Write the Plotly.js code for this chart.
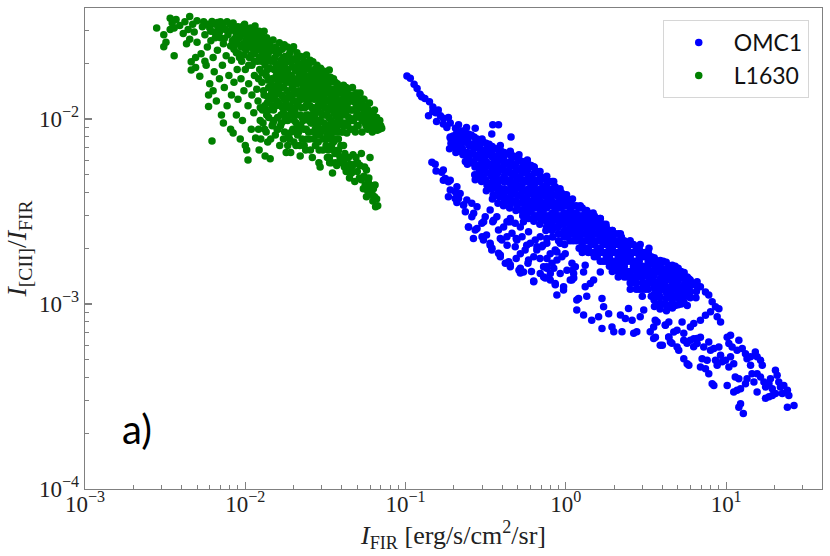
<!DOCTYPE html>
<html>
<head>
<meta charset="utf-8">
<script src="https://cdn.plot.ly/plotly-3.0.1.min.js"></script>
<style>html,body{margin:0;padding:0;background:#fff;}#chart{width:830px;height:556px;}</style>
</head>
<body>
<div id="chart"></div>
<script>
// [I_FIR (erg/s/cm2/sr), I_[CII]/I_FIR] pairs
const L1630_outer = [
[0.0028,0.031],[0.0031,0.0285],[0.0031,0.0246],[0.0032,0.026],[0.0034,0.035],[0.0035,0.033],[0.0036,0.022],[0.0036,0.031],[0.0034,0.0305],[0.0037,0.0345],
[0.0039,0.032],[0.0041,0.029],[0.0042,0.0335],[0.0044,0.0305],[0.0045,0.0358],[0.0045,0.027],[0.0046,0.0204],[0.0046,0.0184],[0.0047,0.0325],[0.0048,0.0295],[0.0049,0.0215],[0.005,0.026],[0.005,0.034],[0.0049,0.019],[0.0043,0.0255],
[0.0052,0.017],[0.0053,0.0225],[0.0054,0.0315],[0.0055,0.0335],[0.0056,0.0285],[0.0057,0.0195],[0.0058,0.0245],[0.0059,0.0135],[0.0059,0.0117],[0.006,0.0155],[0.006,0.031],[0.0061,0.0265],[0.0062,0.0337],[0.0062,0.0076],[0.0063,0.0215],[0.0064,0.0295],[0.0064,0.018],[0.0065,0.0325],[0.0056,0.0205],[0.0063,0.0142],
[0.0066,0.0125],[0.0067,0.0235],[0.0068,0.031],[0.0069,0.0165],[0.007,0.0275],[0.007,0.0335],[0.0071,0.0105],[0.0072,0.0195],[0.0073,0.0095],[0.0073,0.0255],[0.0074,0.0148],[0.0075,0.0305],[0.0076,0.022],[0.0077,0.0118],[0.0078,0.0285],[0.0079,0.0172],[0.008,0.0325],[0.0081,0.0088],[0.0082,0.0208],[0.0082,0.0135],[0.0083,0.0265],[0.0084,0.033],[0.0084,0.0084],[0.0085,0.0158],[0.0085,0.0238],
[0.0087,0.0295],[0.0088,0.0105],[0.0089,0.0185],[0.009,0.0315],[0.009,0.0128],[0.0091,0.0225],[0.0092,0.0275],[0.0093,0.0078],[0.0094,0.0165],[0.0095,0.0305],[0.0095,0.0205],[0.0096,0.0098],[0.0097,0.0255],[0.0098,0.0142],[0.0099,0.0325],[0.01,0.0185],[0.01,0.0072],[0.0101,0.0235],[0.0102,0.0068],[0.0103,0.0285],[0.0104,0.006],[0.0104,0.0118],[0.0105,0.0155],[0.0106,0.0215],[0.0107,0.0265],[0.0108,0.031],[0.0109,0.0088],[0.011,0.0195],[0.011,0.0135],[0.0108,0.0245],
[0.0086,0.0312],[0.0089,0.0255],[0.0092,0.0215],[0.0096,0.0288],[0.0099,0.0242],[0.0102,0.0305],[0.0105,0.0195],[0.0109,0.0275],[0.0112,0.0238],[0.0115,0.0318],[0.0118,0.0262],[0.0122,0.0298],[0.0125,0.0268],[0.0128,0.0228],[0.0131,0.0298],[0.0135,0.0258],
[0.0058,0.0325],[0.0061,0.0298],[0.0065,0.0275],[0.0067,0.0332],[0.0069,0.0295],[0.0072,0.0318],[0.0074,0.0272],[0.0077,0.0335],[0.0079,0.0298],[0.0081,0.0248],[0.0083,0.0312],[0.0086,0.0272],[0.0088,0.0228],[0.0091,0.0295],[0.0094,0.0245],[0.0097,0.0318],[0.0098,0.0222],[0.0101,0.0268],[0.0104,0.0248],[0.0106,0.0295],[0.0109,0.0222],[0.0112,0.0262],[0.0114,0.0205],[0.0117,0.0242],[0.012,0.0278],[0.0123,0.0215],[0.0126,0.0248],[0.0129,0.0275],[0.0132,0.0208],[0.0134,0.0232],[0.0137,0.0255],[0.014,0.0212]
];
const L1630_core = [
[0.0112,0.0295],[0.0113,0.0108],[0.0114,0.0172],[0.0115,0.0225],[0.0116,0.0079],[0.0117,0.0275],[0.0118,0.0297],[0.0118,0.0145],[0.0119,0.0205],[0.012,0.0125],[0.0121,0.0252],[0.0122,0.0068],[0.0123,0.0185],[0.0124,0.0098],[0.0125,0.0235],[0.0126,0.0285],[0.0127,0.0158],[0.0128,0.0112],[0.0129,0.0215],[0.013,0.0265],[0.0131,0.0135],[0.0132,0.0088],[0.0133,0.0195],[0.0134,0.0245],[0.0135,0.0172],[0.0136,0.0275],[0.0137,0.0122],[0.0138,0.0075],[0.0139,0.0225],[0.014,0.0148],[0.014,0.0102],[0.0133,0.0063],[0.0126,0.0205],[0.0121,0.0165],[0.0138,0.0185],
[0.0142,0.0255],[0.0143,0.0061],[0.0144,0.0205],[0.0145,0.0128],[0.0146,0.0165],[0.0147,0.0092],[0.0148,0.0235],[0.0149,0.0267],[0.015,0.0112],[0.0151,0.0185],[0.0152,0.0145],[0.0153,0.0215],[0.0154,0.0082],[0.0155,0.0245],[0.0156,0.0172],[0.0157,0.0125],[0.0158,0.0198],[0.0159,0.0102],[0.016,0.0155],[0.0161,0.0228],[0.0162,0.0138],[0.0163,0.0258],[0.0164,0.0072],[0.0165,0.0182],[0.0166,0.0118],[0.0167,0.0208],[0.0168,0.0095],[0.0169,0.0162],[0.017,0.0238],[0.0171,0.0132],[0.0172,0.0192],[0.0173,0.0108],[0.0174,0.0148],[0.0175,0.0252],[0.0176,0.0085],[0.0177,0.0218],[0.0178,0.0172],[0.0179,0.0122],[0.018,0.0066],[0.018,0.0202],
[0.0182,0.0142],[0.0183,0.0245],[0.0184,0.0098],[0.0185,0.0185],[0.0186,0.0115],[0.0187,0.0222],[0.0188,0.0158],[0.0189,0.0078],[0.019,0.0132],[0.0191,0.0205],[0.0192,0.0066],[0.0193,0.0172],[0.0194,0.0238],[0.0195,0.0105],[0.0196,0.0148],[0.0197,0.0192],[0.0198,0.0088],[0.0199,0.0125],[0.02,0.0246],[0.0201,0.0165],[0.0202,0.0212],[0.0204,0.0112],[0.0205,0.0138],[0.0206,0.0182],[0.0207,0.0072],[0.0208,0.0095],[0.021,0.0228],[0.0211,0.0155],[0.0212,0.0118],[0.0214,0.0198],[0.0215,0.0085],[0.0216,0.0142],[0.0218,0.0172],[0.022,0.0063],[0.022,0.0105],[0.0222,0.0218],[0.0223,0.0128],[0.0225,0.0188],[0.0226,0.0078],[0.0228,0.0155],
[0.023,0.0098],[0.0232,0.0205],[0.0233,0.0138],[0.0235,0.0115],[0.0236,0.0172],[0.0238,0.0068],[0.024,0.0088],[0.0241,0.0222],[0.0243,0.0148],[0.0245,0.0125],[0.0246,0.0188],[0.0248,0.0105],[0.025,0.0162],[0.0252,0.0078],[0.0254,0.0208],[0.0255,0.0135],[0.0257,0.0095],[0.0259,0.0175],[0.026,0.0115],[0.0262,0.0062],[0.0264,0.0204],[0.0265,0.0152],[0.0267,0.0085],[0.0269,0.0128],[0.027,0.0185],[0.0272,0.0105],[0.0274,0.0072],[0.0276,0.0162],[0.0278,0.0138],[0.028,0.0195],[0.0282,0.0092],[0.0284,0.0118],[0.0286,0.0172],[0.0288,0.0058],[0.029,0.0148],[0.0292,0.0082],[0.0293,0.0055],[0.0295,0.0188],[0.0297,0.0108],[0.0299,0.0128],
[0.0302,0.0158],[0.0305,0.0068],[0.0307,0.0182],[0.031,0.0095],[0.0312,0.0138],[0.0315,0.0115],[0.0317,0.0078],[0.032,0.0172],[0.0322,0.0105],[0.0325,0.0062],[0.0327,0.0148],[0.033,0.0125],[0.0332,0.0088],[0.0334,0.0184],[0.0336,0.0058],[0.0339,0.0158],[0.0342,0.0098],[0.0345,0.0072],[0.0347,0.0135],[0.035,0.0051],[0.0352,0.0115],[0.0355,0.0165],[0.0358,0.0085],[0.036,0.0145],[0.0363,0.0065],[0.0366,0.0105],[0.0369,0.0125],[0.0372,0.0056],[0.0375,0.0155],[0.0378,0.0092],[0.0381,0.0078],[0.0384,0.0138],[0.0387,0.0115],[0.039,0.0062],[0.0395,0.0148]
];
const L1630_fill = [
[0.0124,0.0115],[0.0127,0.0178],[0.013,0.0142],[0.0133,0.0222],[0.0136,0.0105],[0.0139,0.0162],[0.0142,0.0188],[0.0146,0.0138],[0.0149,0.0095],[0.015,0.0205],[0.0127,0.0255],[0.0144,0.0238],
[0.0152,0.0165],[0.0155,0.0118],[0.0157,0.0225],[0.016,0.0088],[0.0162,0.0195],[0.0165,0.0148],[0.0167,0.0105],[0.017,0.0175],[0.0172,0.0215],[0.0175,0.0128],[0.0177,0.0098],[0.018,0.0158],[0.0183,0.0185],[0.0185,0.0082],[0.0187,0.0135],[0.019,0.0228],[0.0193,0.0112],[0.0196,0.0168],[0.0199,0.0208],[0.0199,0.0145],
[0.0202,0.0098],[0.0204,0.0188],[0.0207,0.0125],[0.021,0.0162],[0.0212,0.0082],[0.0215,0.0215],[0.0218,0.0135],[0.022,0.0178],[0.0222,0.0092],[0.0225,0.0115],[0.0228,0.0198],[0.023,0.0148],[0.0233,0.0072],[0.0236,0.0128],[0.0238,0.0185],[0.024,0.0105],[0.0243,0.0165],[0.0246,0.0138],[0.0248,0.0085],[0.025,0.0198],
[0.0253,0.0118],[0.0256,0.0155],[0.0258,0.0098],[0.0261,0.0182],[0.0264,0.0135],[0.0267,0.0108],[0.027,0.0165],[0.0273,0.0088],[0.0276,0.0142],[0.0279,0.0178],[0.0282,0.0112],[0.0285,0.0075],[0.0288,0.0158],[0.0291,0.0128],[0.0294,0.0098],[0.0297,0.0168],[0.03,0.0118],[0.0303,0.0088],[0.0306,0.0145],[0.031,0.0168],[0.0313,0.0105],[0.0316,0.0128],[0.0319,0.0072],
[0.0323,0.0158],[0.0326,0.0092],[0.0329,0.0112],[0.0333,0.0138],[0.0336,0.0078],[0.034,0.0168],[0.0343,0.0122],[0.0346,0.0088],[0.035,0.0145],[0.0354,0.0068],[0.0357,0.0108],[0.0361,0.0128],[0.0364,0.0158],[0.0368,0.0078],[0.0371,0.0095],[0.0374,0.0138],[0.0378,0.0112],[0.0382,0.0068],[0.0386,0.0148],[0.039,0.0098],[0.0393,0.0125],[0.0397,0.0085],
[0.0402,0.0138],[0.0406,0.0112],[0.041,0.0092],[0.0414,0.0128],[0.0418,0.0065],[0.0422,0.0105],[0.0426,0.0148],[0.0431,0.0118],[0.0435,0.0092],[0.044,0.0135],[0.0445,0.0112],[0.0449,0.0057],[0.0455,0.0125],[0.046,0.0098],[0.0465,0.0135],[0.047,0.0112],[0.0476,0.0088],[0.0481,0.0132],[0.0487,0.0102],[0.0493,0.0118],[0.0499,0.0092],[0.0505,0.0128],[0.051,0.0105],[0.0518,0.0115],
[0.0121,0.0088],[0.0125,0.0078],[0.0129,0.0095],[0.0132,0.0118],[0.0135,0.0085],[0.0138,0.0132],[0.0141,0.0112],[0.0144,0.0078],[0.0147,0.0152],[0.0148,0.0118],[0.0151,0.0098],[0.0154,0.0135],[0.0156,0.0195],[0.0158,0.0088],[0.0161,0.0122],[0.0163,0.0168],[0.0166,0.0092],[0.0168,0.0135],[0.0171,0.0115],[0.0173,0.0078],[0.0175,0.0182],[0.0178,0.0102],[0.0181,0.0128],[0.0184,0.0072],[0.0186,0.0165],[0.0189,0.0105],[0.0191,0.0118],[0.0194,0.0085],[0.0197,0.0135],[0.0201,0.0075],[0.0203,0.0155],[0.0206,0.0105],[0.0209,0.0188],[0.0213,0.0092],[0.0216,0.0125],[0.0219,0.0072],[0.0223,0.0162],[0.0226,0.0102],[0.0229,0.0135],[0.0232,0.0088],[0.0235,0.0155],[0.0239,0.0118],[0.0242,0.0078],[0.0245,0.0142],[0.0249,0.0098],[0.0252,0.0128],[0.0255,0.0068],[0.0258,0.0145],[0.0262,0.0095],[0.0265,0.0115],[0.0268,0.0078],[0.0272,0.0152],[0.0275,0.0098],[0.0278,0.0082],[0.0281,0.0128],[0.0285,0.0098],[0.0289,0.0068],[0.0292,0.0138],[0.0296,0.0085],[0.0299,0.0148],[0.0302,0.0105],[0.0306,0.0078],[0.031,0.0125],[0.0314,0.0088],[0.0318,0.0148],[0.0321,0.0115],[0.0325,0.0082],[0.0329,0.0068],[0.0333,0.0102],[0.0338,0.0128],[0.0342,0.0082],[0.0346,0.0112],[0.035,0.0095],[0.0355,0.0075],[0.036,0.0118],[0.0365,0.0088],[0.037,0.0135],[0.0375,0.0102],[0.038,0.0085],[0.0385,0.0125],[0.039,0.0108],[0.0395,0.0072],[0.0398,0.0118],[0.0335,0.0062],[0.0345,0.0058],[0.0365,0.0058],[0.0375,0.0065],[0.0385,0.0058],[0.04,0.0062],[0.041,0.0072],[0.0415,0.0055],[0.042,0.0062]
];
const L1630_right = [
[0.0401,0.0105],[0.0404,0.0128],[0.0407,0.0085],[0.041,0.0152],[0.0413,0.0058],[0.0416,0.0115],[0.042,0.0095],[0.0423,0.0138],[0.0426,0.0052],[0.043,0.0084],[0.0433,0.0122],[0.0436,0.0145],[0.044,0.0062],[0.0443,0.0102],[0.0447,0.0048],[0.045,0.0132],[0.0454,0.0088],[0.0458,0.0112],[0.0462,0.0055],[0.0466,0.0148],[0.047,0.0064],[0.0474,0.0098],[0.0478,0.0124],[0.0482,0.0046],[0.0486,0.0085],[0.049,0.0062],[0.0495,0.0138],[0.0498,0.0108],
[0.0502,0.0058],[0.0506,0.0092],[0.051,0.0122],[0.0515,0.0048],[0.052,0.0138],[0.0525,0.0102],[0.053,0.0065],[0.0535,0.0085],[0.054,0.0115],[0.0545,0.0042],[0.055,0.0128],[0.0555,0.0055],[0.056,0.0095],[0.0565,0.0108],[0.057,0.0038],[0.057,0.0053],[0.0575,0.0115],[0.058,0.0088],[0.0585,0.0046],[0.059,0.0102],[0.0595,0.0122],[0.06,0.0062],[0.0605,0.0092],[0.061,0.0041],[0.0615,0.0108],[0.062,0.0085],[0.0625,0.0036],[0.063,0.0098],[0.064,0.0112],[0.0645,0.0044],[0.065,0.00335],[0.0655,0.0092],[0.066,0.0102],[0.0665,0.0087],[0.067,0.0034],[0.068,0.0095],[0.069,0.0098],[0.071,0.0089],[0.07,0.0092],
[0.0528,0.0122],[0.0535,0.0098],[0.0542,0.0128],[0.055,0.0108],[0.0558,0.0118],[0.0567,0.0092],[0.0575,0.0102],[0.0585,0.0112],[0.0595,0.0095],[0.0605,0.0105],[0.0615,0.0095],[0.0628,0.0105],[0.064,0.0092],[0.0655,0.0098],[0.067,0.0093],[0.0685,0.0088],
[0.044,0.0055],[0.046,0.0051],[0.048,0.0057],[0.05,0.0052],[0.052,0.0056],[0.053,0.0047],[0.055,0.0049],[0.056,0.0044],[0.058,0.0041],[0.059,0.0048],[0.06,0.0044],[0.062,0.0039],[0.063,0.0042],[0.064,0.0038],[0.066,0.0037]
];

const OMC1_tip = [
[0.102,0.0171],[0.107,0.0166],[0.113,0.0154],[0.118,0.0146],[0.123,0.0136],[0.126,0.0132],[0.132,0.0129],[0.141,0.0124],[0.148,0.0116],[0.16,0.0112],[0.148,0.011],[0.154,0.0108],[0.139,0.0104],[0.165,0.0104],[0.172,0.0101],[0.185,0.0102],[0.156,0.0097],[0.172,0.0094],[0.19,0.0095],[0.214,0.0093],[0.181,0.009],[0.205,0.0089],[0.24,0.009],[0.272,0.0089],[0.219,0.0084],[0.19,0.008],[0.214,0.0081],[0.24,0.0081],
[0.35,0.0093],[0.38,0.0093],[0.345,0.0083],[0.455,0.008],
[0.3,0.0078],[0.39,0.0072],[0.45,0.0067],[0.51,0.0064],[0.575,0.006],[0.63,0.0055],[0.69,0.0052],[0.76,0.0049],[0.84,0.0046],[0.92,0.0042],[1.01,0.0039],[1.1,0.0037],[1.23,0.0034],[1.35,0.0032],[1.48,0.0031],[1.64,0.0029],[1.78,0.0027],[1.95,0.0025],[2.19,0.0024],[2.52,0.0022],[2.91,0.0021],[3.3,0.002]
];
const OMC1_band = [
[0.19,0.0079],[0.192,0.0074],[0.188,0.0069],
[0.207,0.0083],[0.205,0.0077],[0.209,0.0071],[0.206,0.0066],
[0.225,0.0086],[0.227,0.008],[0.224,0.0074],[0.226,0.0069],[0.228,0.0064],
[0.246,0.0083],[0.244,0.0077],[0.248,0.0072],[0.245,0.0066],[0.247,0.0061],[0.243,0.0057],
[0.268,0.008],[0.27,0.0074],[0.266,0.0069],[0.269,0.0064],[0.267,0.0059],[0.271,0.0055],[0.27,0.005],[0.272,0.0047],
[0.292,0.0077],[0.29,0.0071],[0.294,0.0066],[0.291,0.0062],[0.293,0.0057],[0.289,0.0053],[0.295,0.0049],[0.298,0.0046],
[0.318,0.0074],[0.32,0.0069],[0.316,0.0064],[0.319,0.0059],[0.317,0.0055],[0.321,0.0051],[0.315,0.0047],[0.322,0.0044],[0.319,0.0041],
[0.347,0.0071],[0.345,0.0066],[0.349,0.0062],[0.346,0.0057],[0.348,0.0053],[0.344,0.0049],[0.35,0.0046],[0.346,0.0042],[0.352,0.0039],[0.348,0.0037],
[0.378,0.0069],[0.38,0.0064],[0.376,0.0059],[0.379,0.0055],[0.377,0.0051],[0.381,0.0047],[0.375,0.0044],[0.379,0.0041],[0.383,0.0038],[0.377,0.0035],
[0.412,0.0066],[0.41,0.0062],[0.414,0.0057],[0.411,0.0053],[0.413,0.0049],[0.409,0.0046],[0.415,0.0042],[0.411,0.0039],[0.413,0.0036],[0.408,0.0034],
[0.45,0.0064],[0.452,0.0059],[0.448,0.0055],[0.451,0.0051],[0.449,0.0047],[0.453,0.0044],[0.447,0.0041],[0.45,0.0038],[0.452,0.0035],[0.446,0.0033],
[0.49,0.0062],[0.488,0.0057],[0.492,0.0053],[0.489,0.0049],[0.491,0.0046],[0.487,0.0042],[0.493,0.0039],[0.49,0.0036],[0.494,0.0034],[0.488,0.0032],
[0.534,0.0059],[0.536,0.0055],[0.532,0.0051],[0.535,0.0047],[0.533,0.0044],[0.537,0.0041],[0.531,0.0038],[0.534,0.0035],[0.529,0.0032],[0.538,0.003],
[0.582,0.0057],[0.58,0.0053],[0.584,0.0049],[0.581,0.0046],[0.583,0.0042],[0.579,0.0039],[0.585,0.0036],[0.582,0.0034],[0.578,0.0031],[0.586,0.0029],
[0.635,0.0055],[0.637,0.0051],[0.633,0.0047],[0.636,0.0044],[0.634,0.0041],[0.638,0.0038],[0.632,0.0035],[0.635,0.0033],[0.637,0.003],[0.631,0.0028],
[0.692,0.0049],[0.69,0.0046],[0.694,0.0042],[0.691,0.0039],[0.693,0.0036],[0.689,0.0034],[0.695,0.0031],[0.692,0.0029],[0.688,0.0027],
[0.754,0.0047],[0.756,0.0044],[0.752,0.0041],[0.755,0.0038],[0.753,0.0035],[0.757,0.0033],[0.751,0.003],[0.754,0.0028],[0.758,0.0026],[0.75,0.0025],
[0.822,0.0046],[0.82,0.0042],[0.824,0.0039],[0.821,0.0036],[0.823,0.0034],[0.819,0.0031],[0.825,0.0029],[0.822,0.0027],[0.82,0.0025],[0.826,0.0023],
[0.896,0.0041],[0.898,0.0038],[0.894,0.0035],[0.897,0.0033],[0.895,0.003],[0.899,0.0028],[0.893,0.0026],[0.896,0.0024],[0.9,0.0022],
[0.977,0.0039],[0.975,0.0036],[0.979,0.0034],[0.976,0.0031],[0.978,0.0029],[0.974,0.0027],[0.98,0.0025],[0.977,0.0023],[0.982,0.0021],
[1.065,0.0035],[1.067,0.0033],[1.063,0.003],[1.066,0.0028],[1.064,0.0026],[1.068,0.0024],[1.062,0.0022],
[1.161,0.0034],[1.159,0.0031],[1.163,0.0029],[1.16,0.0027],[1.162,0.0025],[1.158,0.0023],[1.164,0.0022],
[1.265,0.0033],[1.267,0.003],[1.263,0.0028],[1.266,0.0026],[1.264,0.0024],[1.268,0.0022],[1.262,0.0021],[1.265,0.0019],
[1.379,0.0031],[1.377,0.0029],[1.381,0.0027],[1.378,0.0025],[1.38,0.0023],[1.376,0.0022],[1.382,0.002],[1.379,0.0019],
[1.504,0.003],[1.506,0.0028],[1.502,0.0026],[1.505,0.0024],[1.503,0.0022],[1.507,0.0021],[1.501,0.0019],[1.504,0.0018],
[1.639,0.0029],[1.637,0.0027],[1.641,0.0025],[1.638,0.0023],[1.64,0.0022],[1.636,0.002],[1.642,0.0019],[1.639,0.0017],
[1.787,0.0026],[1.789,0.0024],[1.785,0.0022],[1.788,0.0021],[1.786,0.0019],[1.79,0.0018],[1.784,0.0017],
[1.948,0.0025],[1.946,0.0023],[1.95,0.0022],[1.947,0.002],[1.949,0.0019],[1.945,0.0017],[1.951,0.0016],[1.948,0.0015],
[2.123,0.0024],[2.125,0.0022],[2.121,0.0021],[2.124,0.0019],[2.122,0.0018],[2.126,0.0017],[2.12,0.0015],[2.123,0.0014],
[2.314,0.0022],[2.312,0.002],[2.316,0.0019],[2.313,0.0017],[2.315,0.0016],[2.311,0.0015],[2.317,0.0014],
[2.523,0.0021],[2.525,0.0019],[2.521,0.0018],[2.524,0.0017],[2.522,0.0015],[2.526,0.0014],[2.52,0.0013],[2.523,0.0012],
[2.75,0.002],[2.748,0.0019],[2.752,0.0017],[2.749,0.0016],[2.751,0.0015],[2.747,0.0014],[2.753,0.0013],[2.75,0.0012],
[2.998,0.0019],[3.0,0.0018],[2.996,0.0016],[2.999,0.0015],[2.997,0.0014],[3.001,0.0013],[2.995,0.0012],[2.998,0.0011],
[3.267,0.0019],[3.265,0.0017],[3.269,0.0016],[3.266,0.0015],[3.268,0.0014],[3.264,0.0013],[3.27,0.0012],
[3.56,0.00178],[3.55,0.00165],[3.57,0.00153],[3.56,0.00142],[3.55,0.00132],[3.57,0.00122],[3.56,0.00113],[3.55,0.00105],[3.57,0.00097],
[3.88,0.00172],[3.89,0.00159],[3.87,0.00148],[3.88,0.00137],[3.89,0.00127],[3.87,0.00118],[3.88,0.00109],[3.89,0.00101],[3.87,0.00094],
[4.23,0.00168],[4.22,0.00155],[4.24,0.00144],[4.23,0.00134],[4.22,0.00124],[4.24,0.00115],[4.23,0.00107],[4.22,0.00099],[4.24,0.00092],
[4.61,0.00162],[4.62,0.0015],[4.6,0.00139],[4.61,0.00129],[4.62,0.0012],[4.6,0.00111],[4.61,0.00103],[4.62,0.00095],
[5.02,0.00156],[5.01,0.00145],[5.03,0.00134],[5.02,0.00125],[5.01,0.00116],[5.03,0.00107],[5.02,0.00099],
[5.47,0.00148],[5.48,0.00137],[5.46,0.00127],[5.47,0.00118],[5.48,0.0011],[5.46,0.00102],
[5.97,0.00135],[5.96,0.00125],[5.98,0.00116],[5.97,0.00108],
[6.5,0.00126],[6.52,0.00117],[6.48,0.00108]
];
const OMC1_bandFill = [
[0.198,0.0081],[0.198,0.0071],[0.216,0.0085],[0.216,0.0076],[0.216,0.0067],
[0.236,0.0084],[0.236,0.0075],[0.236,0.0066],[0.236,0.0059],[0.257,0.0082],[0.257,0.0073],[0.257,0.0065],[0.257,0.0058],
[0.28,0.0078],[0.28,0.007],[0.28,0.0062],[0.28,0.0056],[0.28,0.005],[0.305,0.0075],[0.305,0.0067],[0.305,0.006],[0.305,0.0053],[0.305,0.0048],
[0.332,0.0073],[0.332,0.0064],[0.332,0.0057],[0.332,0.0051],[0.332,0.0045],[0.362,0.0069],[0.362,0.0061],[0.362,0.0055],[0.362,0.0049],[0.362,0.0043],
[0.395,0.0067],[0.395,0.006],[0.395,0.0053],[0.395,0.0047],[0.395,0.0042],[0.395,0.0038],[0.43,0.0065],[0.43,0.0058],[0.43,0.0052],[0.43,0.0046],[0.43,0.0041],[0.43,0.0037],
[0.47,0.0063],[0.47,0.0056],[0.47,0.005],[0.47,0.0045],[0.47,0.004],[0.47,0.0036],[0.512,0.006],[0.512,0.0053],[0.512,0.0048],[0.512,0.0043],[0.512,0.0039],[0.512,0.0035],
[0.558,0.0058],[0.558,0.0051],[0.558,0.0046],[0.558,0.0041],[0.558,0.0037],[0.558,0.0033],[0.608,0.0056],[0.608,0.0049],[0.608,0.0044],[0.608,0.004],[0.608,0.0036],[0.608,0.0032],
[0.662,0.0052],[0.662,0.0046],[0.662,0.0041],[0.662,0.0037],[0.662,0.0033],[0.662,0.003],[0.722,0.0048],[0.722,0.0043],[0.722,0.0039],[0.722,0.0035],[0.722,0.0032],[0.722,0.0029],
[0.787,0.0046],[0.787,0.0041],[0.787,0.0037],[0.787,0.0034],[0.787,0.003],[0.787,0.0027],[0.858,0.0043],[0.858,0.0039],[0.858,0.0035],[0.858,0.0032],[0.858,0.0029],[0.858,0.0026],
[0.935,0.004],[0.935,0.0036],[0.935,0.0033],[0.935,0.003],[0.935,0.0027],[0.935,0.0024],[1.02,0.0037],[1.02,0.0034],[1.02,0.0031],[1.02,0.0028],[1.02,0.0025],[1.02,0.0023],
[1.11,0.0034],[1.11,0.0031],[1.11,0.0029],[1.11,0.0026],[1.11,0.0024],[1.11,0.0022],[1.21,0.0033],[1.21,0.003],[1.21,0.0027],[1.21,0.0025],[1.21,0.0023],[1.21,0.002],
[1.32,0.0031],[1.32,0.0028],[1.32,0.0026],[1.32,0.0024],[1.32,0.0022],[1.32,0.002],[1.44,0.003],[1.44,0.0027],[1.44,0.0025],[1.44,0.0023],[1.44,0.0021],[1.44,0.0019],
[1.57,0.0029],[1.57,0.0026],[1.57,0.0024],[1.57,0.0022],[1.57,0.002],[1.57,0.0018],[1.71,0.0027],[1.71,0.0025],[1.71,0.0023],[1.71,0.0021],[1.71,0.0019],[1.71,0.0017],
[1.87,0.0025],[1.87,0.0023],[1.87,0.0021],[1.87,0.002],[1.87,0.0018],[1.87,0.0016],[2.03,0.0024],[2.03,0.0022],[2.03,0.0021],[2.03,0.0019],[2.03,0.0017],[2.03,0.0016],
[2.22,0.0023],[2.22,0.0021],[2.22,0.002],[2.22,0.0018],[2.22,0.0016],[2.22,0.0015],[2.42,0.0021],[2.42,0.002],[2.42,0.0018],[2.42,0.0017],[2.42,0.0015],[2.42,0.0014],
[2.64,0.0021],[2.64,0.0019],[2.64,0.0017],[2.64,0.0016],[2.64,0.0014],[2.64,0.0013],[2.87,0.002],[2.87,0.0018],[2.87,0.0017],[2.87,0.0015],[2.87,0.0014],[2.87,0.0012],
[3.13,0.0019],[3.13,0.0018],[3.13,0.0016],[3.13,0.0015],[3.13,0.0013],[3.13,0.0012],[3.41,0.0018],[3.41,0.0017],[3.41,0.0015],[3.41,0.0014],[3.41,0.0013],[3.41,0.0011],
[3.72,0.0017],[3.72,0.0016],[3.72,0.0015],[3.72,0.0013],[3.72,0.0012],[3.72,0.0011],[3.72,0.001],[4.05,0.0017],[4.05,0.0015],[4.05,0.0014],[4.05,0.0013],[4.05,0.0012],[4.05,0.001],
[4.42,0.0016],[4.42,0.0015],[4.42,0.0014],[4.42,0.0012],[4.42,0.0011],[4.42,0.00097],[4.81,0.0016],[4.81,0.0014],[4.81,0.0013],[4.81,0.0012],[4.81,0.0011],[4.81,0.00098],
[5.24,0.0015],[5.24,0.0014],[5.24,0.0012],[5.24,0.0011],[5.24,0.001],[5.72,0.0014],[5.72,0.0013],[5.72,0.0012],[5.72,0.0011],[5.72,0.00098]
];
const OMC1_lower = [
[0.146,0.00583],[0.153,0.00569],[0.155,0.00523],[0.168,0.00515],[0.172,0.00467],[0.19,0.00467],[0.185,0.0038],[0.204,0.00404],[0.214,0.00372],[0.209,0.00354],[0.23,0.00343],[0.236,0.00315],[0.259,0.00296],[0.247,0.00261],[0.279,0.00256],[0.265,0.00226],[0.3,0.00231],[0.337,0.00208],[0.346,0.002],[0.38,0.00188],[0.39,0.00184],[0.44,0.00169],[0.45,0.00163],[0.51,0.00152],[0.52,0.00147],[0.61,0.0015],[0.63,0.00133],[0.76,0.00156],[0.69,0.00176],[0.58,0.00166],[0.49,0.00176],[0.43,0.00208],[0.39,0.00226],[0.32,0.00236],[0.307,0.00278],[0.35,0.00278],[0.45,0.00278],[0.49,0.00226],[0.57,0.00208],[0.66,0.00204],[0.76,0.00226],[0.88,0.00191],[0.84,0.00156],[1.1,0.00152],[1.32,0.00162],[1.64,0.00149],
[0.172,0.0053],[0.177,0.00477],[0.185,0.00458],[0.19,0.00413],[0.204,0.00372],[0.209,0.0043],[0.219,0.00396],[0.23,0.00343],[0.241,0.00365],[0.259,0.0035],[0.266,0.00309],[0.279,0.00336],[0.247,0.00261],[0.272,0.00251],[0.299,0.00273],[0.314,0.00296],[0.337,0.00322],[0.354,0.00284],[0.371,0.00296],[0.306,0.00222],[0.337,0.00213],[0.345,0.00196],[0.38,0.00251],[0.409,0.00261],[0.429,0.00278],[0.45,0.0029],[0.483,0.00273],[0.52,0.00261],[0.544,0.00278],[0.399,0.00222],[0.429,0.00231],[0.461,0.00241],[0.495,0.00222],[0.533,0.00231],[0.585,0.00246],[0.39,0.0018],[0.419,0.00166],[0.45,0.00159],[0.483,0.00204],[0.52,0.00187],[0.557,0.00196],[0.6,0.00213],[0.644,0.00222],[0.692,0.00231],[0.52,0.00156],[0.544,0.00149],[0.585,0.00173],[0.63,0.0018],[0.659,0.00196],[0.709,0.00204],[0.761,0.00213],[0.799,0.00187],[0.858,0.00196],[0.922,0.00213],[0.63,0.00132],[0.692,0.00146],[0.727,0.0014],[0.761,0.00159],[0.819,0.00166],[0.88,0.00173],[0.945,0.0018],[0.991,0.00187],[0.799,0.00135],[0.858,0.00129],[0.922,0.00146],[1.016,0.00152],[1.092,0.00166],[0.968,0.00124],[1.065,0.00135],[1.118,0.00146],[1.146,0.00159],
[0.744,0.00138],[0.859,0.00127],[0.879,0.00112],[0.967,0.00119],[1.09,0.00135],[1.12,0.00138],[1.17,0.00105],[1.2,0.00107],[1.17,0.000927],[1.29,0.000872],[1.35,0.0011],[1.45,0.000818],[1.6,0.000854],[1.68,0.00107],[1.72,0.000967],[1.68,0.000737],[1.85,0.000887],[1.94,0.000752],[1.99,0.000708],[2.19,0.000872],[2.24,0.000708],[2.35,0.000836],[2.46,0.000945],[2.59,0.000818],[2.65,0.000694],[2.77,0.000708],[2.91,0.000854],[3.06,0.000927],[3.36,0.000708],[3.53,0.00065],[3.61,0.000818],[3.88,0.000599],[4.17,0.00077],[4.38,0.000664],[4.59,0.000613],[5.44,0.000694],[5.7,0.000613],[6.27,0.000588],[6.57,0.00065],[1.32,0.00124],[1.42,0.00129],[1.29,0.00149],[1.49,0.00135],[0.8,0.00146],[0.726,0.00159],[0.762,0.00176],[0.719,0.00208]
];
const OMC1_tail = [
[5.85,0.00137],[6.13,0.00129],[6.59,0.00132],[6.91,0.00124],[7.43,0.00116],[7.79,0.00112],[8.18,0.00103],[8.58,0.000965],[9.01,0.000944],[7.99,0.000907],[8.79,0.000852],[9.23,0.000799],[7.43,0.00087],[6.91,0.000817],[6.28,0.000784],[5.98,0.00075],[5.31,0.000799],[4.94,0.000721],[4.71,0.000705],[4.39,0.000799],[4.18,0.000768],[3.71,0.000799],[3.53,0.00075],[3.62,0.000662],[4.0,0.000598],[4.39,0.000662],[4.49,0.000623],[4.94,0.000586],[5.06,0.000563],[5.44,0.000506],[5.71,0.000475],[5.85,0.000467],[5.44,0.000637],[5.98,0.000637],[6.28,0.000649],[6.59,0.000612],[6.91,0.000662],[7.25,0.000586],[7.79,0.000623],[7.99,0.000563],[8.38,0.000574],[9.01,0.000586],[9.23,0.000528],[8.58,0.000496],[7.61,0.000496],[7.08,0.000506],[6.91,0.000457],[7.43,0.000447],[7.79,0.00042],[8.18,0.000371],[8.38,0.000363],[8.79,0.000467],[9.45,0.000487],[9.91,0.000496],[10.4,0.000457],[10.65,0.000518],[11.15,0.000475],[11.4,0.000403],[12.0,0.000395],[11.7,0.000563],[10.9,0.000586],[10.4,0.000612],[10.15,0.000662],[10.65,0.000678],[12.0,0.000637],[12.6,0.000574],[13.2,0.000539],[13.5,0.000506],[14.2,0.000518],[14.2,0.000467],[15.2,0.000551],[15.6,0.000518],[16.4,0.000496],[16.8,0.000467],[15.6,0.00042],[14.5,0.00042],[13.5,0.000395],[13.2,0.000371],[12.3,0.000348],[11.15,0.000334],[10.15,0.000363],[11.7,0.000342],[12.3,0.000289],[12.0,0.000277],[12.8,0.000256],[14.9,0.000379],[15.6,0.000334],[16.4,0.000403],[17.2,0.000379],[17.6,0.000356],[18.5,0.000371],[18.9,0.000395],[19.4,0.000348],[20.3,0.000438],[20.8,0.000412],[21.3,0.000379],[21.8,0.000356],[22.4,0.000328],[22.9,0.000363],[24.1,0.000342],[24.6,0.00032],[17.6,0.000309],[18.5,0.000315],[19.4,0.00032],[20.3,0.000328],[24.1,0.000277],[26.5,0.000283]
];

const xTickVals = [0.001, 0.01, 0.1, 1, 10];
const xTickText = ['10<sup>\u22123</sup>', '10<sup>\u22122</sup>', '10<sup>\u22121</sup>', '10<sup>0</sup>', '10<sup>1</sup>'];
const xMinorVals = [0.002,0.003,0.004,0.005,0.006,0.007,0.008,0.009,0.02,0.03,0.04,0.05,0.06,0.07,0.08,0.09,0.2,0.3,0.4,0.5,0.6,0.7,0.8,0.9,2,3,4,5,6,7,8,9,20,30];
const yTickVals = [0.0001, 0.001, 0.01];
const yTickText = ['10<sup>\u22124</sup>', '10<sup>\u22123</sup>', '10<sup>\u22122</sup>'];
const yMinorVals = [0.0002,0.0003,0.0004,0.0005,0.0006,0.0007,0.0008,0.0009,0.002,0.003,0.004,0.005,0.006,0.007,0.008,0.009,0.02,0.03];

const OMC1 = [].concat(OMC1_tip, OMC1_band, OMC1_bandFill, OMC1_lower, OMC1_tail);
const L1630 = [].concat(L1630_outer, L1630_core, L1630_fill, L1630_right);

const serif = 'Liberation Serif, DejaVu Serif, serif';
const sans = 'Lato, Open Sans, sans-serif';
const axisColor = '#808080';

const traces = [
  {x: OMC1.map(p => p[0]), y: OMC1.map(p => p[1]), type: 'scatter', mode: 'markers', name: 'OMC1',
   marker: {color: '#0000ff', size: 7.5, line: {width: 0}}},
  {x: L1630.map(p => p[0]), y: L1630.map(p => p[1]), type: 'scatter', mode: 'markers', name: 'L1630',
   marker: {color: '#008000', size: 7.5, line: {width: 0}}}
];

function axisBase() {
  return {
    type: 'log', showline: true, mirror: true, linecolor: axisColor, linewidth: 1.3,
    ticks: 'inside', ticklen: 7, tickwidth: 1.2, tickcolor: axisColor,
    tickmode: 'array', showgrid: false, zeroline: false,
    tickfont: {family: serif, size: 23, color: '#222'}
  };
}

const xaxis = Object.assign(axisBase(), {
  range: [-3, 1.598], tickvals: xTickVals, ticktext: xTickText, ticklabelstandoff: -6,
  minor: {tickmode: 'array', tickvals: xMinorVals, ticks: 'inside', ticklen: 4, tickwidth: 1, tickcolor: axisColor, showgrid: false},
  title: {text: '<i>I</i><sub>FIR</sub> [erg/s/cm<sup>2</sup>/sr]', font: {family: serif, size: 26, color: '#222'}, standoff: 0}
});
const yaxis = Object.assign(axisBase(), {
  range: [-4, -1.4], tickvals: yTickVals, ticktext: yTickText,
  minor: {tickmode: 'array', tickvals: yMinorVals, ticks: 'inside', ticklen: 4, tickwidth: 1, tickcolor: axisColor, showgrid: false},
  title: {text: '<i>I</i><sub>[CII]</sub>/<i>I</i><sub>FIR</sub>', font: {family: serif, size: 28, color: '#222'}, standoff: 4}
});

const layout = {
  width: 830, height: 556,
  margin: {l: 85, r: 8, t: 8, b: 67},
  paper_bgcolor: '#ffffff', plot_bgcolor: '#ffffff',
  xaxis: xaxis, yaxis: yaxis,
  showlegend: true,
  legend: {x: 0.982, xanchor: 'right', y: 0.975, yanchor: 'top', bgcolor: 'rgba(255,255,255,0.9)',
           bordercolor: '#d6d6d6', borderwidth: 1, font: {family: sans, size: 23, color: '#111'},
           itemwidth: 60},
  annotations: [{text: 'a)', xref: 'paper', yref: 'paper', x: 0.0706, y: 0.125, xanchor: 'center', yanchor: 'middle',
                 showarrow: false, font: {family: sans, size: 40, color: '#000'}}],
  hovermode: false
};

Plotly.newPlot('chart', traces, layout, {staticPlot: true, displayModeBar: false});
</script>
</body>
</html>
